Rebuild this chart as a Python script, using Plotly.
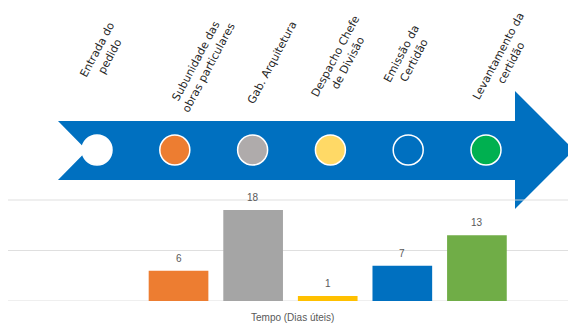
import plotly.graph_objects as go

# Process steps and working days spent in each
steps = [
    "Entrada do<br>pedido",
    "Subunidade das<br>obras particulares",
    "Gab. Arquitetura",
    "Despacho Chefe<br>de Divisão",
    "Emissão da<br>Certidão",
    "Levantamento da<br>certidão",
]
dias = [None, 6, 18, 1, 7, 13]
grid_values = [0, 10, 20]
axis_title = "Tempo (Dias úteis)"

circle_fill = ["#FFFFFF", "#ED7D31", "#AFABAB", "#FFD966", "rgba(0,0,0,0)", "#00B050"]
bar_colors = ["#FFFFFF", "#ED7D31", "#A5A5A5", "#FFC000", "#0070C0", "#70AD47"]

W, H = 568, 324
ARROW = "#0070C0"


def px(x, y):
    """pixel position -> paper coordinates"""
    return x / W, 1 - y / H


idx = list(range(len(steps)))

fig = go.Figure()

# bar chart of durations
fig.add_trace(go.Bar(
    x=idx, y=dias, width=0.8,
    marker=dict(color=bar_colors, line=dict(width=0)),
    xaxis="x", yaxis="y", hoverinfo="skip", showlegend=False,
))

# timeline markers on the arrow
fig.add_trace(go.Scatter(
    x=idx, y=[0] * len(idx), mode="markers",
    marker=dict(size=30, color=circle_fill, line=dict(color="#FFFFFF", width=1.5)),
    xaxis="x2", yaxis="y2", hoverinfo="skip", showlegend=False,
))

# big blue arrow (background)
pts = [(58, 121), (515, 121), (515, 91), (574, 150), (515, 209),
       (515, 180), (58, 180), (87, 150.5)]
path = "M " + " L ".join(f"{px(a, b)[0]:.5f},{px(a, b)[1]:.5f}" for a, b in pts) + " Z"
shapes = [dict(type="path", path=path, xref="paper", yref="paper",
               fillcolor=ARROW, line=dict(width=0), layer="below")]

# horizontal gridlines, drawn after the arrow (so over it) but under the bars
for g in grid_values:
    shapes.append(dict(type="line", xref="paper", yref="y", x0=8 / W, x1=1, y0=g, y1=g,
                       line=dict(color="rgba(217,217,217,0.85)", width=1), layer="below"))

annotations = []
# rotated step names
label_dx = [6, 27, 20, 11, -1, 19]
label_y = [53, 64, 63, 59, 57, 60]
for i, name in enumerate(steps):
    annotations.append(dict(
        text=name, x=i, xref="x2", xshift=label_dx[i],
        y=px(0, label_y[i])[1], yref="paper",
        xanchor="center", yanchor="middle", textangle=-62,
        showarrow=False, align="center",
        font=dict(family="DejaVu Sans", size=11, color="#262626"),
    ))

# value labels above the bars
for i, v in enumerate(dias):
    if v is None:
        continue
    annotations.append(dict(
        text=str(v), x=i, y=v, xref="x", yref="y",
        xanchor="center", yanchor="bottom", yshift=5, showarrow=False,
        font=dict(family="Liberation Sans", size=10, color="#595959"),
    ))

annotations.append(dict(
    text=axis_title, x=px(292, 0)[0], y=px(0, 317)[1], xref="paper", yref="paper",
    xanchor="center", yanchor="middle", showarrow=False,
    font=dict(family="Liberation Sans", size=10, color="#595959"),
))

fig.update_layout(
    width=W, height=H,
    margin=dict(l=0, r=0, t=0, b=0),
    paper_bgcolor="#FFFFFF", plot_bgcolor="rgba(0,0,0,0)",
    xaxis=dict(domain=[8 / W, 1], range=[-1.286, 6.221], visible=False),
    yaxis=dict(domain=[1 - 301 / H, 1 - (301 - 22 * 5.05) / H], range=[0, 22],
               showgrid=False, zeroline=False, showticklabels=False, ticks=""),
    xaxis2=dict(domain=[0, 1], range=[-1.247, 6.054], visible=False, anchor="y2"),
    yaxis2=dict(domain=[1 - 180 / H, 1 - 120 / H], range=[-1, 1], visible=False, anchor="x2"),
    shapes=shapes,
    annotations=annotations,
)

fig.write_html("out.html")
